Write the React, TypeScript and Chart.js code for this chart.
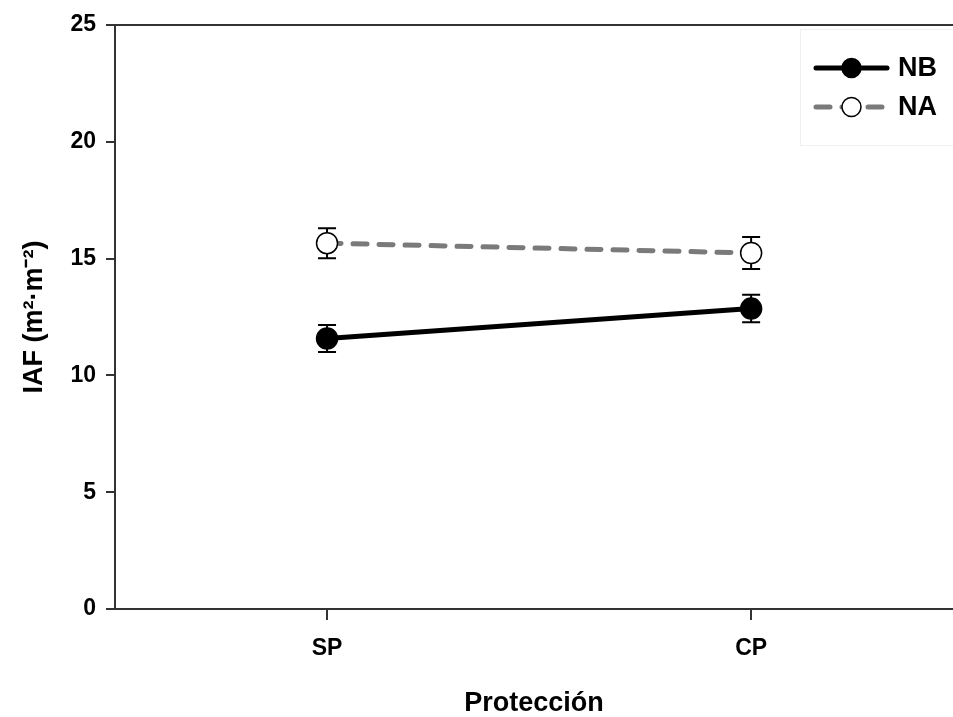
import React, { useEffect, useRef } from "react";
import { Chart, registerables } from "chart.js";

Chart.register(...registerables);

const categories = ["SP", "CP"];
const seriesNames = ["NB", "NA"];
const nbValues = [11.58, 12.86];
const nbErrors = [0.58, 0.59];
const naValues = [15.66, 15.24];
const naErrors = [0.64, 0.69];
const yTicks = [0, 5, 10, 15, 20, 25];

const FONT = "'Liberation Sans', Arial, Helvetica, sans-serif";
const AXIS_COLOR = "#333333";

const errorBarPlugin = {
  id: "errorBars",
  beforeDatasetsDraw(chart: any) {
    const { ctx, scales } = chart;
    const xs = scales.x;
    const ys = scales.y;
    chart.data.datasets.forEach((ds: any) => {
      const errs: number[] = ds.errors || [];
      ds.data.forEach((pt: any, i: number) => {
        const e = errs[i];
        if (e == null) return;
        const x = xs.getPixelForValue(pt.x);
        const yTop = ys.getPixelForValue(pt.y + e);
        const yBot = ys.getPixelForValue(pt.y - e);
        ctx.save();
        ctx.strokeStyle = "#000";
        ctx.lineWidth = 2;
        ctx.beginPath();
        ctx.moveTo(x, yTop);
        ctx.lineTo(x, yBot);
        ctx.moveTo(x - 9, yTop);
        ctx.lineTo(x + 9, yTop);
        ctx.moveTo(x - 9, yBot);
        ctx.lineTo(x + 9, yBot);
        ctx.stroke();
        ctx.restore();
      });
    });
  },
};

const framePlugin = {
  id: "frameTop",
  afterDraw(chart: any) {
    const { ctx, chartArea } = chart;
    ctx.save();
    ctx.strokeStyle = AXIS_COLOR;
    ctx.lineWidth = 2;
    ctx.beginPath();
    ctx.moveTo(chartArea.left, chartArea.top);
    ctx.lineTo(chart.width, chartArea.top);
    ctx.stroke();
    ctx.restore();
  },
};

const legendPlugin = {
  id: "customLegend",
  afterDraw(chart: any) {
    const { ctx } = chart;
    ctx.save();
    ctx.strokeStyle = "#f0f0f0";
    ctx.lineWidth = 1;
    ctx.strokeRect(800.5, 29.5, 160, 116);
    const rows = [68, 107];
    chart.data.datasets.forEach((ds: any, i: number) => {
      const y = rows[i];
      const x0 = 816;
      const x1 = 887;
      const xm = (x0 + x1) / 2;
      ctx.strokeStyle = ds.borderColor;
      ctx.lineWidth = ds.borderWidth;
      ctx.lineCap = ds.borderCapStyle || "butt";
      ctx.setLineDash(ds.borderDash || []);
      ctx.beginPath();
      ctx.moveTo(x0, y);
      ctx.lineTo(x1, y);
      ctx.stroke();
      ctx.setLineDash([]);
      ctx.beginPath();
      ctx.arc(xm, y, 9.5, 0, Math.PI * 2);
      ctx.fillStyle = ds.pointBackgroundColor;
      ctx.fill();
      ctx.lineWidth = ds.pointBorderWidth;
      ctx.strokeStyle = ds.pointBorderColor;
      ctx.stroke();
      ctx.fillStyle = "#000";
      ctx.font = `bold 27px ${FONT}`;
      ctx.textBaseline = "middle";
      ctx.textAlign = "left";
      ctx.fillText(ds.label, 898, y + 1);
    });
    ctx.restore();
  },
};

export default function App() {
  const ref = useRef<HTMLCanvasElement>(null);

  useEffect(() => {
    document.body.style.margin = "0";
    const canvas = ref.current;
    if (!canvas) return;
    const chart = new Chart(canvas, {
      type: "line",
      data: {
        datasets: [
          {
            label: seriesNames[0],
            data: categories.map((_, i) => ({ x: i, y: nbValues[i] })),
            errors: nbErrors,
            borderColor: "#000000",
            borderWidth: 5,
            borderCapStyle: "round",
            pointRadius: 10.5,
            pointHoverRadius: 10.5,
            pointBackgroundColor: "#000000",
            pointBorderColor: "#000000",
            pointBorderWidth: 1.5,
            tension: 0,
          } as any,
          {
            label: seriesNames[1],
            data: categories.map((_, i) => ({ x: i, y: naValues[i] })),
            errors: naErrors,
            borderColor: "#7a7a7a",
            borderWidth: 5,
            borderDash: [14, 12],
            borderCapStyle: "round",
            pointRadius: 10.5,
            pointHoverRadius: 10.5,
            pointBackgroundColor: "#ffffff",
            pointBorderColor: "#000000",
            pointBorderWidth: 1.5,
            tension: 0,
          } as any,
        ],
      },
      options: {
        responsive: false,
        animation: false,
        devicePixelRatio: 1,
        layout: { autoPadding: false, padding: { top: 25, left: 0, right: 0, bottom: 0 } },
        plugins: {
          legend: { display: false },
          tooltip: { enabled: false },
        },
        scales: {
          x: {
            type: "linear",
            min: -0.5,
            max: 1.476,
            afterBuildTicks: (scale: any) => {
              scale.ticks = categories.map((_, i) => ({ value: i }));
            },
            afterFit: (scale: any) => {
              scale.height = 108;
              scale.paddingLeft = 0;
              scale.paddingRight = 0;
            },
            ticks: {
              callback: (v: any) => categories[v as number] ?? "",
              font: { family: FONT, size: 23, weight: "bold" },
              color: "#000",
              padding: 15,
              maxRotation: 0,
            },
            grid: {
              drawOnChartArea: false,
              drawTicks: true,
              tickLength: 11,
              color: AXIS_COLOR,
              lineWidth: 2,
            },
            border: { display: true, color: AXIS_COLOR, width: 2 },
            title: {
              display: true,
              text: "Protección",
              font: { family: FONT, size: 27, weight: "bold", lineHeight: 1 },
              color: "#000",
              padding: { top: 0, bottom: 0 },
            },
          },
          y: {
            type: "linear",
            min: 0,
            max: 25,
            afterBuildTicks: (scale: any) => {
              scale.ticks = yTicks.map((v) => ({ value: v }));
            },
            afterFit: (scale: any) => {
              scale.width = 115;
            },
            ticks: {
              font: { family: FONT, size: 23, weight: "bold" },
              color: "#000",
              padding: 10,
            },
            grid: {
              drawOnChartArea: false,
              drawTicks: true,
              tickLength: 9,
              color: AXIS_COLOR,
              lineWidth: 2,
            },
            border: { display: true, color: AXIS_COLOR, width: 2 },
            title: {
              display: true,
              text: "IAF (m²·m⁻²)",
              font: { family: FONT, size: 27, weight: "bold", lineHeight: 1 },
              color: "#000",
              padding: { top: 21, bottom: 0 },
            },
          },
        },
      } as any,
      plugins: [errorBarPlugin, framePlugin, legendPlugin],
    });
    return () => chart.destroy();
  }, []);

  return (
    <div style={{ position: "absolute", left: 0, top: 0, width: 953, height: 717, background: "#fff" }}>
      <canvas ref={ref} width={953} height={717} />
    </div>
  );
}
